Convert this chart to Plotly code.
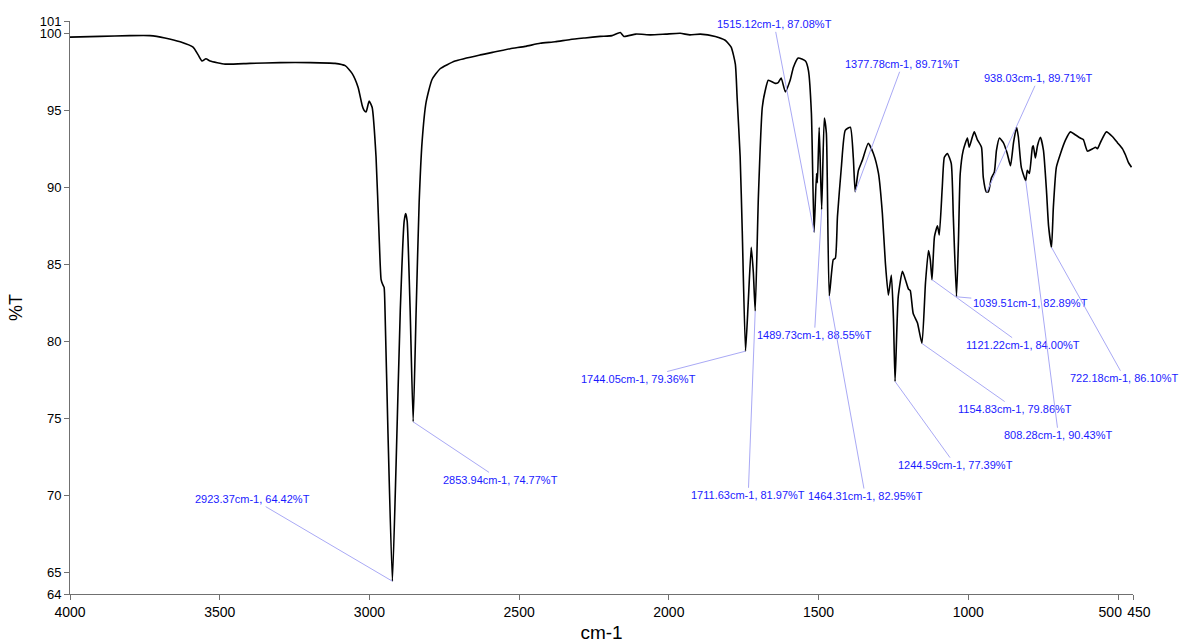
import plotly.graph_objects as go

# ---- spectrum (wavenumber cm-1, %T) ----
wavenumber = [
    4000, 3900, 3800, 3733, 3683, 3632, 3589, 3572, 3559, 3546, 3532, 3482, 3399, 3298, 3198,
    3115, 3081, 3058, 3038, 3024, 3018, 3011, 3001, 2991, 2978, 2968, 2961, 2956, 2951, 2948,
    2938, 2923.37, 2911, 2897, 2884, 2879, 2874, 2864, 2853.94, 2844, 2834, 2824, 2811, 2791,
    2764, 2714, 2630, 2580, 2530, 2480, 2430, 2380, 2329, 2280, 2229, 2190, 2162, 2150, 2110,
    2062, 2010, 1962, 1930, 1895, 1845, 1812, 1792, 1778, 1772, 1762, 1755, 1744.05, 1735, 1725,
    1718, 1711.63, 1701, 1688, 1678, 1668, 1645, 1635, 1625, 1611, 1595, 1584, 1568, 1544, 1534,
    1524, 1515.12, 1507, 1504, 1498, 1489.73, 1481, 1474, 1464.31, 1451, 1444, 1437, 1424, 1411,
    1394, 1384, 1377.78, 1367, 1354, 1334, 1317, 1300, 1287, 1277, 1267, 1257, 1250, 1244.59,
    1234, 1220, 1210, 1200, 1194, 1184, 1170, 1154.83, 1143, 1133, 1127, 1121.22, 1113, 1103,
    1097, 1087, 1080, 1070, 1057, 1050, 1039.51, 1033, 1027, 1017, 1003, 997, 986, 980, 970,
    956, 950, 940, 933, 923, 913, 906, 896, 883, 870, 859, 849, 839, 833, 823, 808.28, 803, 796,
    786, 783, 776, 769, 759, 749, 739, 732, 722.18, 716, 706, 692, 676, 659, 642, 626, 616, 602,
    585, 575, 569, 559, 539, 519, 502, 485, 475, 465, 455,
]
transmittance = [
    99.75, 99.8, 99.85, 99.85, 99.7, 99.45, 99.1, 98.6, 98.2, 98.35, 98.2, 98.0, 98.05, 98.1, 98.1,
    98.05, 97.9, 97.4, 96.5, 95.3, 95.0, 94.9, 95.6, 95.2, 92.0, 87.0, 84.0, 83.7, 83.5, 82.0,
    74.0, 64.42, 72.0, 82.0, 87.8, 88.3, 87.8, 82.0, 74.77, 82.0, 89.0, 93.0, 95.5, 97.0,
    97.7, 98.2, 98.6, 98.8, 99.0, 99.15, 99.35, 99.45, 99.6, 99.7, 99.8, 99.85, 100.05, 99.8, 99.95,
    99.9, 99.95, 100.0, 99.9, 99.95, 99.8, 99.55, 99.1, 98.0, 95.8, 92.0, 87.2, 79.36, 82.5, 86.1,
    84.5, 81.97, 89.4, 95.2, 96.3, 96.95, 96.75, 96.8, 97.1, 96.2, 96.95, 97.8, 98.4, 98.2, 97.6,
    94.8, 87.08, 90.9, 90.3, 93.9, 88.55, 94.5, 93.5, 82.95, 85.3, 85.4, 88.1, 91.3, 93.7,
    93.9, 91.9, 89.71, 91.1, 91.75, 92.86, 92.2, 90.9, 88.3, 85.1, 83.0, 84.3, 81.5, 77.39,
    82.9, 84.55, 84.0, 83.4, 83.3, 81.8, 81.2, 79.86, 83.8, 85.9, 85.3, 84.0, 86.8, 87.5,
    86.9, 90.0, 91.95, 92.2, 91.55, 88.05, 82.89, 86.5, 90.9, 92.4, 93.2, 92.6, 93.3, 93.6, 93.1,
    92.6, 90.65, 89.71, 89.7, 90.6, 91.0, 92.4, 93.2, 92.9, 92.2, 91.4, 92.9, 93.9, 93.3, 91.3, 90.43, 91.1, 90.9,
    92.6, 92.7, 91.9, 92.7, 93.25, 92.4, 89.8, 87.5, 86.1, 88.7, 91.3, 92.2, 93.05, 93.6, 93.4, 93.2, 93.1, 92.35,
    92.5, 92.6, 92.5, 92.9, 93.6, 93.3, 92.9, 92.5, 92.1, 91.6, 91.3,
]

# ---- peak labels: peak position, and label position ----
peak_x = [2923.37, 2853.94, 1744.05, 1711.63, 1515.12, 1489.73, 1464.31, 1377.78,
          1244.59, 1154.83, 1121.22, 1039.51, 938.03, 808.28, 722.18]
peak_y = [64.42, 74.77, 79.36, 81.97, 87.08, 88.55, 82.95, 89.71,
          77.39, 79.86, 84.00, 82.89, 89.71, 90.43, 86.10]
label_x = [3389, 2563, 2102, 1735, 1648, 1514, 1344, 1220,
           1043, 843, 819, 793, 766, 699, 478]
label_y = [69.75, 71.0, 77.55, 70.0, 100.58, 80.4, 69.95, 97.99,
           71.96, 75.6, 79.75, 82.47, 97.08, 73.9, 77.6]

# ---- axes ticks ----
NB = "&nbsp;"
x_tickvals = [4000, 3500, 3000, 2500, 2000, 1500, 1000, 500, 450]
x_ticktext = ["4000", "3500", "3000", "2500", "2000", "1500", "1000",
              "500" + NB * 4, NB * 3 + "450"]
y_min, y_max = 63.59, 100.8
y_tickvals = [y_min, 65, 70, 75, 80, 85, 90, 95, 100, y_max]
y_ticktext = ["64", "65", "70", "75", "80", "85", "90", "95", "100", "101"]

FONT = "Liberation Sans, Arial, sans-serif"

fig = go.Figure()
fig.add_trace(go.Scatter(
    x=wavenumber, y=transmittance, mode="lines",
    line=dict(color="black", width=1.6, shape="spline", smoothing=0.5),
    hoverinfo="x+y", showlegend=False,
))

for px_, py_, lx, ly in zip(peak_x, peak_y, label_x, label_y):
    fig.add_annotation(
        x=px_, y=py_, xref="x", yref="y",
        ax=lx, ay=ly, axref="x", ayref="y",
        text=f"{px_:.2f}cm-1, {py_:.2f}%T",
        showarrow=True, arrowhead=0, arrowwidth=1, arrowcolor="#a9a9f5",
        standoff=0, startstandoff=0,
        font=dict(family=FONT, size=11, color="#1a1aff"),
    )

fig.update_layout(
    width=1183, height=643,
    margin=dict(l=70, r=50, t=21, b=49, pad=0),
    paper_bgcolor="white", plot_bgcolor="white",
    font=dict(family=FONT, color="black"),
    xaxis=dict(
        range=[4000, 450], tickmode="array", tickvals=x_tickvals, ticktext=x_ticktext,
        tickangle=0,
        showgrid=False, zeroline=False, showline=True, linecolor="#707070", linewidth=1,
        ticks="outside", ticklen=5, tickcolor="#707070", tickfont=dict(size=14, family=FONT),
        title=dict(text="cm-1", font=dict(size=19, family=FONT), standoff=6),
        automargin=False,
    ),
    yaxis=dict(
        range=[y_min, y_max], tickmode="array", tickvals=y_tickvals, ticktext=y_ticktext,
        showgrid=False, zeroline=False, showline=True, linecolor="#707070", linewidth=1,
        ticks="outside", ticklen=5, tickcolor="#707070", tickfont=dict(size=13, family=FONT),
        title=dict(text="%T", font=dict(size=18, family=FONT), standoff=12),
        automargin=False,
    ),
)

fig.write_html("out.html")
